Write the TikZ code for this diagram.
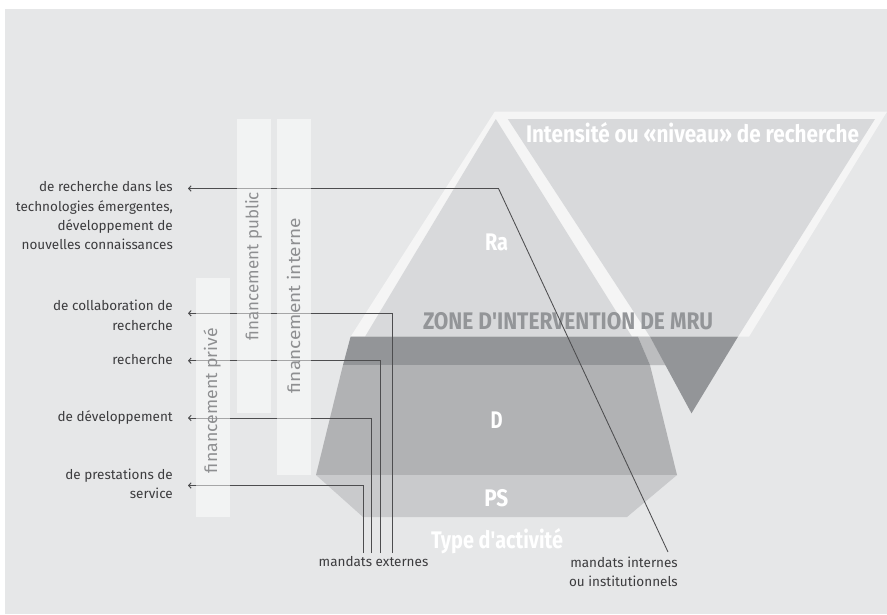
\documentclass[tikz,border=0pt]{standalone}
\usepackage{fontspec}
\setmainfont{Fira Sans}
\usepackage{graphicx}
\usetikzlibrary{arrows.meta}
\definecolor{bgc}{HTML}{E6E7E8}
\definecolor{whitec}{HTML}{F5F5F5}
\definecolor{lightc}{HTML}{D8D9DB}
\definecolor{darkc}{HTML}{939598}
\definecolor{stripc}{HTML}{BCBDBF}
\definecolor{dreg}{HTML}{B1B2B4}
\definecolor{psreg}{HTML}{C9CACC}
\definecolor{linec}{HTML}{4D4D4F}
\definecolor{txtc}{HTML}{3C3C3E}
\definecolor{rotc}{HTML}{8E8F91}
\newcommand\fitw[2]{\resizebox{#1pt}{\height}{#2}}
\tikzset{
  wlab/.style={text=white, inner sep=0pt, anchor=base, font=\fontsize{24}{24}\selectfont\bfseries},
  zlab/.style={wlab, text=darkc},
  lab/.style={text=txtc, inner sep=0pt, align=right, font=\fontsize{13.5}{19.3}\selectfont},
  rlab/.style={text=rotc, inner sep=0pt, rotate=90, font=\fontsize{17}{17}\selectfont},
  bar/.style={fill=white, fill opacity=0.5},
  conn/.style={draw=linec, line width=0.85pt},
  arr/.style={conn, -{Straight Barb[length=2.5pt,width=5.5pt,line width=1pt]}},
}
\begin{document}
\begin{tikzpicture}[x=1pt,y=-1pt]
\useasboundingbox (0,0) rectangle (887,614);
\fill[white] (0,0) rectangle (887,614);
\fill[bgc] (5,9) rectangle (887,614);
% white outlines of the two triangles
\fill[whitec] (350.6,336.7) -- (494.7,111.7) -- (887,111.7) -- (749,336.7) -- cycle;
% Ra triangle
\fill[lightc] (495.8,119) -- (365,336.7) -- (632,336.7) -- cycle;
% upper part of the inverted triangle
\fill[lightc] (507.8,119) -- (875,119) -- (738,336.7) -- (650,336.7) -- cycle;
% strip in the band
\fill[stripc] (638,336.7) -- (650,336.7) -- (666,365) -- (650,365) -- cycle;
% zone band
\fill[darkc] (350.6,336.7) -- (638,336.7) -- (650,365) -- (343,365) -- cycle;
% lower part of the inverted triangle
\fill[darkc] (650,336.7) -- (738,336.7) -- (691.5,413.3) -- cycle;
% D
\fill[dreg] (343,365) -- (650,365) -- (677,475) -- (316,475) -- cycle;
% PS
\fill[psreg] (316,475) -- (677,475) -- (627,517) -- (363,517) -- cycle;

% white labels
\node[wlab] (int) at (692.5,142.5) {\fitw{333}{Intensité ou «niveau» de recherche}};
\node[wlab] (ra) at (496.5,250.7) {\fitw{23}{Ra}};
\node[zlab] (zone) at (568,329.3) {\fitw{290}{ZONE D\textquotesingle INTERVENTION DE MRU}};
\node[wlab] (d) at (496.7,428.3) {\fitw{12}{D}};
\node[wlab] (ps) at (496.3,506.3) {\fitw{24}{PS}};
\node[wlab] (type) at (497,548.4) {\fitw{132}{Type d\textquotesingle activité}};

% left labels
\node[lab, anchor=north east] (l1) at (173,181.5) {de recherche dans les\\technologies émergentes,\\développement de\\nouvelles connaissances};
\node[lab, anchor=north east] (l2) at (173,300.2) {de collaboration de\\recherche};
\node[lab, anchor=base east] (l3) at (173,364.4) {recherche};
\node[lab, anchor=base east] (l4) at (173,421.7) {de développement};
\node[lab, anchor=north east] (l5) at (173,468.5) {de prestations de\\service};
\node[lab, anchor=base] (mext) at (373.5,566.7) {mandats externes};
\node[lab, anchor=north east] (mint) at (678,556.5) {mandats internes\\ou institutionnels};

% connector points
\coordinate (t1) at (188,188.5);
\coordinate (t2) at (188,313.3);
\coordinate (t3) at (188,360.7);
\coordinate (t4) at (188,418);
\coordinate (t5) at (188,485.5);
\coordinate (b1) at (498.5,188.5);
\coordinate (b2) at (392.3,313.3);
\coordinate (b3) at (380.7,360.7);
\coordinate (b4) at (371.7,418);
\coordinate (b5) at (363.3,485.5);
\coordinate (e1) at (668,552);
\coordinate (e2) at (392.3,553);
\coordinate (e3) at (380.7,553);
\coordinate (e4) at (371.7,553);
\coordinate (e5) at (363.3,553);

\draw[arr] (e1) -- (b1) -- (t1);
\draw[arr] (e2) -- (b2) -- (t2);
\draw[arr] (e3) -- (b3) -- (t3);
\draw[arr] (e4) -- (b4) -- (t4);
\draw[arr] (e5) -- (b5) -- (t5);

% funding bars
\fill[bar] (196,278) rectangle (230,517);
\fill[bar] (236.7,119) rectangle (270.7,412.7);
\fill[bar] (276.7,119) rectangle (310.7,475);
\node[rlab] (fpriv) at (212,400.5) {\fitw{145}{financement privé}};
\node[rlab] (fpub) at (253.5,266) {\fitw{148}{financement public}};
\node[rlab] (fint) at (293.5,305.5) {\fitw{175}{financement interne}};
\end{tikzpicture}
\end{document}
